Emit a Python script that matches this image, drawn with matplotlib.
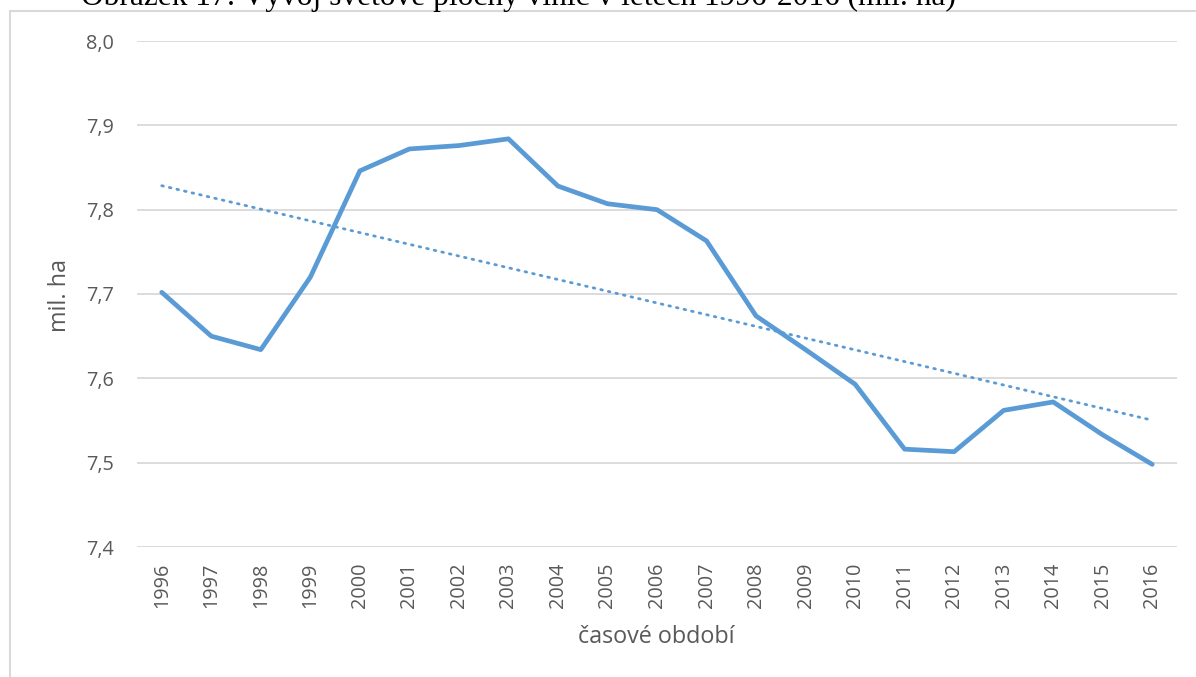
import numpy as np
import matplotlib.pyplot as plt
from matplotlib.patches import Rectangle


plt.rcParams["font.family"] = ["Open Sans", "DejaVu Sans"]

# data
years = ["1996", "1997", "1998", "1999", "2000", "2001", "2002", "2003", "2004", "2005", "2006",
         "2007", "2008", "2009", "2010", "2011", "2012", "2013", "2014", "2015", "2016"]
area = [7.702, 7.650, 7.634, 7.720, 7.846, 7.872, 7.876, 7.884, 7.828, 7.807, 7.800,
        7.763, 7.674, 7.634, 7.593, 7.516, 7.513, 7.562, 7.572, 7.533, 7.498]
y_ticks = [7.4, 7.5, 7.6, 7.7, 7.8, 7.9, 8.0]

W, H = 1196, 677
fig = plt.figure(figsize=(W / 100, H / 100), dpi=100)

# chart frame (runs off the right/bottom edge like the screenshot)
fig.patches.append(Rectangle((10 / W, -0.1), 1.2, 1 - 11 / H + 0.1, transform=fig.transFigure,
                             fill=False, edgecolor="#d9d9d9", linewidth=1.5))

# caption above the chart, its top half cut off by the screenshot
fig.text(81 / W, 1 - 5 / H, "Obrázek 17: Vývoj světové plochy vinic v letech 1996-2016 (mil. ha)",
         family=["Liberation Serif"], fontsize=22.6, color="black", va="baseline", ha="left")

ax = fig.add_axes([137 / W, 1 - 547 / H, (1177 - 137) / W, (547 - 41) / H])
x = np.arange(len(years))
ax.plot(x, area, color="#5B9BD5", linewidth=3.4, solid_capstyle="round", solid_joinstyle="round", zorder=3)

# linear trend line as in Excel
k, q = np.polyfit(x, area, 1)
ax.plot(x, k * x + q, color="#5B9BD5", linewidth=2, linestyle=(0, (0.6, 2.2)),
        dash_capstyle="round", zorder=2)

ax.set_xlim(-0.5, len(years) - 0.5)
ax.set_ylim(7.4, 8.0)
ax.set_yticks(y_ticks)
ax.set_yticklabels([f"{v:.1f}".replace(".", ",") for v in y_ticks])
ax.set_xticks(x)
ax.set_xticklabels(years, rotation=90)
ax.grid(axis="y", color="#d9d9d9", linewidth=1.3)
ax.set_axisbelow(True)
for s in ax.spines.values():
    s.set_visible(False)
ax.tick_params(axis="both", length=0, colors="#595959", labelsize=14.3)
ax.tick_params(axis="y", pad=16.5)
ax.tick_params(axis="x", pad=11.5)

fig.text(60 / W, 1 - 295 / H, "mil. ha", rotation=90, ha="center", va="center", fontsize=16.8, color="#595959")
fig.text(656 / W, 1 - 637 / H, "časové období", ha="center", va="center", fontsize=16.8, color="#595959")

fig.savefig("out.png", dpi=100)
